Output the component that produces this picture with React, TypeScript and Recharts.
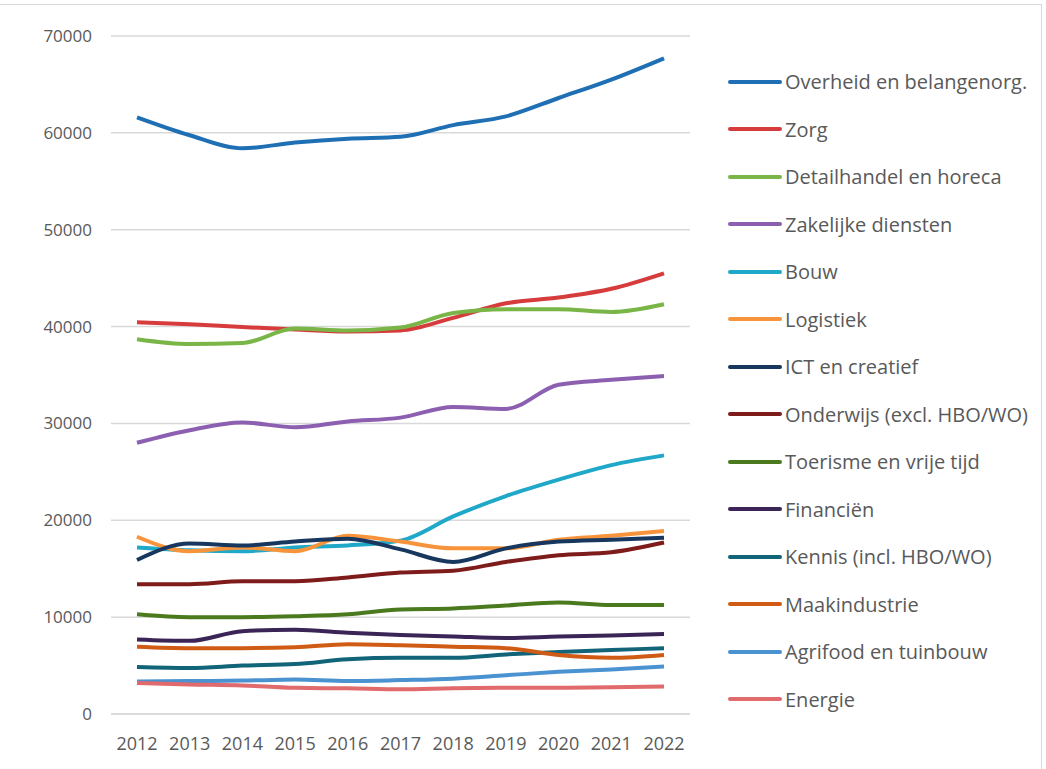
import React from "react";
import { LineChart, Line, XAxis, YAxis, CartesianGrid } from "recharts";

const years = ["2012", "2013", "2014", "2015", "2016", "2017", "2018", "2019", "2020", "2021", "2022"];

const overheid = [61600, 59750, 58400, 59000, 59400, 59600, 60800, 61700, 63600, 65500, 67700];
const zorg = [40450, 40250, 39950, 39700, 39500, 39600, 40900, 42400, 43000, 43900, 45500];
const detailhandel = [38700, 38200, 38300, 39800, 39600, 39900, 41400, 41800, 41800, 41500, 42300];
const zakelijk = [28000, 29300, 30100, 29600, 30200, 30600, 31700, 31500, 34000, 34500, 34900];
const bouw = [17200, 16900, 16800, 17200, 17400, 17900, 20400, 22500, 24200, 25700, 26700];
const logistiek = [18300, 16800, 17200, 16800, 18400, 17800, 17100, 17100, 18000, 18400, 18900];
const ict = [15900, 17600, 17400, 17800, 18100, 17000, 15700, 17100, 17800, 18000, 18200];
const onderwijs = [13400, 13400, 13700, 13700, 14100, 14600, 14800, 15700, 16400, 16700, 17700];
const toerisme = [10300, 10000, 10000, 10100, 10300, 10800, 10900, 11200, 11500, 11250, 11250];
const financien = [7700, 7550, 8550, 8700, 8400, 8150, 8000, 7850, 8000, 8100, 8250];
const kennis = [4850, 4750, 5000, 5150, 5650, 5800, 5800, 6150, 6400, 6600, 6800];
const maakindustrie = [6950, 6800, 6800, 6880, 7200, 7100, 6950, 6800, 6080, 5800, 6100];
const agrifood = [3350, 3400, 3450, 3550, 3400, 3500, 3650, 4000, 4350, 4600, 4900];
const energie = [3200, 3050, 2950, 2700, 2650, 2550, 2650, 2700, 2700, 2750, 2850];

const yTicks = [0, 10000, 20000, 30000, 40000, 50000, 60000, 70000];

const series = [
  { key: "overheid", name: "Overheid en belangenorg.", values: overheid, color: "#1f6fb5" },
  { key: "zorg", name: "Zorg", values: zorg, color: "#d63c3c" },
  { key: "detailhandel", name: "Detailhandel en horeca", values: detailhandel, color: "#7ab547" },
  { key: "zakelijk", name: "Zakelijke diensten", values: zakelijk, color: "#8c5fb0" },
  { key: "bouw", name: "Bouw", values: bouw, color: "#20a8c9" },
  { key: "logistiek", name: "Logistiek", values: logistiek, color: "#f7943b" },
  { key: "ict", name: "ICT en creatief", values: ict, color: "#17375e" },
  { key: "onderwijs", name: "Onderwijs (excl. HBO/WO)", values: onderwijs, color: "#7e1b1b" },
  { key: "toerisme", name: "Toerisme en vrije tijd", values: toerisme, color: "#4b7a1e" },
  { key: "financien", name: "Financiën", values: financien, color: "#3a2556" },
  { key: "kennis", name: "Kennis (incl. HBO/WO)", values: kennis, color: "#126479" },
  { key: "maakindustrie", name: "Maakindustrie", values: maakindustrie, color: "#cf5b14" },
  { key: "agrifood", name: "Agrifood en tuinbouw", values: agrifood, color: "#4b92d0" },
  { key: "energie", name: "Energie", values: energie, color: "#e06a6c" },
];

const data = years.map((year, i) => {
  const row: Record<string, number | string> = { year };
  series.forEach((s) => {
    row[s.key] = s.values[i];
  });
  return row;
});

const font = "'Open Sans', sans-serif";

export default function App() {
  return (
    <div
      style={{
        position: "absolute",
        left: 0,
        top: 0,
        width: 1046,
        height: 769,
        background: "#fff",
        fontFamily: font,
      }}
    >
      <div
        style={{
          position: "absolute",
          left: -2,
          top: 4,
          width: 1042,
          height: 780,
          border: "1px solid #d9d9d9",
        }}
      />
      <LineChart
        width={1046}
        height={769}
        data={data}
        margin={{ top: 36, right: 356, bottom: 15, left: 41 }}
      >
        <CartesianGrid vertical={false} stroke="#d9d9d9" strokeWidth={1.5} />
        <XAxis
          dataKey="year"
          height={40}
          tickSize={0}
          tickMargin={23}
          padding={{ left: 26, right: 26 }}
          axisLine={{ stroke: "#d9d9d9", strokeWidth: 1.5 }}
          tick={{ fill: "#595959", fontSize: 18, fontFamily: font }}
          interval={0}
        />
        <YAxis
          width={70}
          domain={[0, 70000]}
          ticks={yTicks}
          tickSize={0}
          tickMargin={19}
          axisLine={false}
          tick={{ fill: "#595959", fontSize: 17, fontFamily: font }}
        />
        {series.map((s) => (
          <Line
            key={s.key}
            dataKey={s.key}
            name={s.name}
            type="monotone"
            stroke={s.color}
            strokeWidth={4}
            dot={false}
            activeDot={false}
            isAnimationActive={false}
          />
        ))}
      </LineChart>
      <div style={{ position: "absolute", left: 728, top: 58 }}>
        {series.map((s) => (
          <div
            key={s.key}
            style={{ display: "flex", alignItems: "center", height: 47.5 }}
          >
            <div
              style={{
                width: 54,
                height: 4,
                borderRadius: 2,
                background: s.color,
                marginRight: 3,
              }}
            />
            <span style={{ color: "#595959", fontSize: 20, whiteSpace: "nowrap" }}>
              {s.name}
            </span>
          </div>
        ))}
      </div>
    </div>
  );
}
